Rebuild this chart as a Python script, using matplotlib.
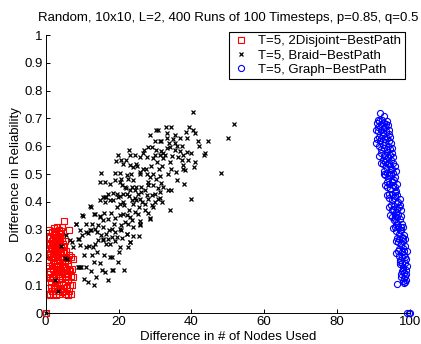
import numpy as np
import matplotlib
matplotlib.use('Agg')
import matplotlib.pyplot as plt

plt.rcParams['font.family'] = ['Liberation Sans', 'DejaVu Sans']

# 2Disjoint - BestPath (red squares)
disj_x = [0.0, 1.2, 2.0, 2.8, 3.7, 4.5, 5.6, 6.3, 1.6, 3.3, 7.0,
          1.0, 2.2, 3.0, 4.0, 4.8, 5.9, 6.6, 1.5, 2.6, 3.6, 5.3, 7.3,
          1.1, 1.9, 2.9, 3.9, 4.6, 5.5, 6.2, 7.0, 2.4, 3.4, 7.5,
          1.3, 2.1, 3.1, 4.2, 5.0, 5.8, 6.5, 1.7, 2.7, 3.8, 4.6, 7.2,
          1.0, 2.0, 3.0, 4.0, 5.2, 6.0, 6.9, 1.5, 2.5, 3.5, 4.5, 7.4,
          1.2, 2.2, 3.2, 4.1, 5.0, 5.7, 1.8, 2.8, 3.7,
          1.1, 2.0, 3.0, 3.9, 4.7, 1.6, 2.5, 3.4,
          1.3, 2.2, 3.1, 4.0, 2.6, 3.6, 4.4, 3.2, 5.0, 6.3,
          0.8, 1.4, 2.4, 3.2, 4.3, 5.1, 6.0, 0.9, 1.7, 2.7, 3.6, 4.4, 5.2,
          6.0, 6.8, 0.8, 2.3, 3.3, 4.0, 5.4, 6.2, 0.9, 1.9, 2.9, 4.7, 5.5,
          6.3, 1.4, 2.3, 3.3, 4.3, 5.1, 0.9, 1.9, 2.8, 3.7, 4.5, 1.6, 2.2,
          2.9, 4.2, 5.3, 1.0]
disj_y = [0.0, 0.065, 0.07, 0.065, 0.07, 0.075, 0.07, 0.08, 0.08, 0.08, 0.07,
          0.09, 0.095, 0.1, 0.09, 0.1, 0.095, 0.1, 0.11, 0.11, 0.105, 0.11, 0.1,
          0.125, 0.13, 0.12, 0.135, 0.125, 0.13, 0.12, 0.135, 0.14, 0.14, 0.13,
          0.15, 0.16, 0.155, 0.15, 0.165, 0.155, 0.16, 0.17, 0.17, 0.17, 0.175, 0.16,
          0.185, 0.19, 0.18, 0.195, 0.185, 0.19, 0.2, 0.2, 0.2, 0.205, 0.2, 0.195,
          0.215, 0.22, 0.21, 0.225, 0.215, 0.225, 0.23, 0.235, 0.23,
          0.245, 0.25, 0.245, 0.255, 0.25, 0.26, 0.26, 0.265,
          0.275, 0.28, 0.275, 0.285, 0.295, 0.3, 0.31, 0.31, 0.33, 0.3,
          0.07, 0.095, 0.085, 0.09, 0.085, 0.08, 0.065, 0.14, 0.125, 0.135, 0.125, 0.14, 0.145,
          0.14, 0.15, 0.17, 0.175, 0.165, 0.16, 0.17, 0.175, 0.21, 0.205, 0.22, 0.22, 0.2,
          0.21, 0.235, 0.24, 0.24, 0.24, 0.24, 0.27, 0.27, 0.26, 0.275, 0.27, 0.29, 0.305,
          0.29, 0.295, 0.26, 0.3]

# Braid - BestPath (black crosses)
braid_x = [0.0, 2.5, 4.2, 3.5, 5.5, 5.3, 8.8, 9.2, 9.5,
           30.4, 30.9, 33.0, 34.4, 33.4, 28.6, 31.3, 31.8, 33.2, 35.0, 35.5,
           36.8, 38.7, 39.3, 40.5, 40.9, 41.9, 43.7, 43.4, 40.0, 40.9, 40.7,
           37.7, 38.0, 40.0, 48.1, 50.1, 51.6, 40.5, 28.1, 29.1, 30.4, 31.8,
           32.3, 33.2, 34.1, 35.5, 36.8, 37.7, 38.7, 36.4, 37.3, 37.7, 38.2,
           35.9, 34.5, 34.1, 32.3, 31.3, 29.5, 27.7, 26.8, 25.9, 24.5, 23.1,
           22.8, 19.9, 19.3, 20.8, 21.3, 23.1, 24.0, 24.9, 26.8, 25.9, 27.7,
           28.6, 29.5, 30.4, 31.3, 31.8, 33.6, 34.5, 32.3, 31.3, 30.9, 30.0,
           29.5, 28.1, 27.2, 26.3, 24.9, 24.0, 22.7, 22.2, 20.8, 20.4, 19.0,
           17.6, 16.3, 14.9, 15.3, 19.0, 20.4, 18.5, 19.9, 21.3, 22.2, 23.6,
           23.1, 24.5, 25.4, 25.9, 24.9, 24.0, 27.2, 29.1, 21.3, 20.4, 18.5,
           17.6, 16.7, 15.8, 14.9, 16.3, 12.4, 13.5, 14.9, 15.8, 19.0, 20.4,
           21.3, 22.2, 23.1, 23.6, 22.7, 21.7, 20.8, 25.9, 28.6, 34.1, 27.2,
           25.4, 24.5, 14.4, 12.6, 10.3, 8.2, 13.5, 12.1, 11.2, 14.0, 15.3,
           16.7, 17.2, 18.1, 19.5, 20.8, 22.2, 24.0, 25.6, 23.1, 22.7, 20.4,
           17.6, 15.8, 13.5, 13.1, 11.2, 9.4, 9.1, 7.6, 6.7, 20.4, 18.1, 15.8,
           10.1, 12.2, 13.3, 14.9, 8.3, 11.7, 12.4, 8.9, 7.1, 10.6, 9.7, 11.2,
           12.6, 13.3, 10.6, 11.5, 13.3, 5.8, 14.4, 15.8, 16.7, 15.4, 16.3,
           18.1, 18.6, 21.5, 16.1, 17.6, 19.9, 19.0, 22.2, 23.1, 25.9, 28.6,
           21.8, 23.6, 26.3, 28.1, 29.1, 30.9, 31.4, 17.2, 16.3, 19.5,
           26.0, 27.5, 29.0, 30.5, 32.0, 33.5, 28.0, 29.5, 31.0, 32.8, 34.8,
           36.0, 37.5, 33.8, 30.0, 27.0, 25.0, 23.5, 22.0, 21.0, 23.0, 24.5,
           26.5, 27.8, 25.5, 23.0, 21.5, 19.5, 18.0, 17.0, 16.0, 18.8, 17.5,
           19.0, 21.0, 20.0, 18.2, 14.0, 12.0, 10.0, 11.0, 9.5, 15.0, 13.8,
           17.0, 12.5, 24.0, 26.0, 28.0, 30.0, 32.0, 36.0, 39.0, 42.0, 38.5,
           44.5, 30.0, 35.5, 20.5, 22.0]
braid_y = [0.0, 0.12, 0.24, 0.08, 0.28, 0.198, 0.164, 0.164, 0.164,
           0.660, 0.660, 0.670, 0.670, 0.648, 0.640, 0.620, 0.620, 0.631, 0.625, 0.613,
           0.631, 0.628, 0.670, 0.658, 0.646, 0.620, 0.574, 0.568, 0.577, 0.544, 0.526,
           0.520, 0.464, 0.412, 0.505, 0.630, 0.680, 0.722, 0.598, 0.598, 0.588, 0.582,
           0.574, 0.592, 0.598, 0.586, 0.584, 0.570, 0.580, 0.562, 0.552, 0.532, 0.514,
           0.508, 0.520, 0.544, 0.556, 0.568, 0.556, 0.562, 0.574, 0.562, 0.568, 0.568,
           0.586, 0.568, 0.546, 0.550, 0.538, 0.532, 0.526, 0.538, 0.520, 0.508, 0.502,
           0.490, 0.502, 0.484, 0.492, 0.468, 0.442, 0.442, 0.454, 0.436, 0.412, 0.400,
           0.382, 0.412, 0.442, 0.454, 0.454, 0.478, 0.484, 0.496, 0.484, 0.472, 0.478,
           0.466, 0.472, 0.472, 0.504, 0.504, 0.504, 0.432, 0.418, 0.430, 0.430, 0.406,
           0.442, 0.442, 0.430, 0.412, 0.406, 0.394, 0.394, 0.388, 0.400, 0.394, 0.406,
           0.406, 0.418, 0.418, 0.406, 0.400, 0.380, 0.358, 0.344, 0.334, 0.342, 0.352,
           0.358, 0.352, 0.346, 0.334, 0.322, 0.328, 0.316, 0.316, 0.340, 0.370, 0.370,
           0.358, 0.364, 0.316, 0.322, 0.348, 0.320, 0.304, 0.298, 0.292, 0.292, 0.280,
           0.286, 0.268, 0.274, 0.274, 0.298, 0.286, 0.278, 0.278, 0.256, 0.238, 0.238,
           0.250, 0.262, 0.250, 0.238, 0.238, 0.244, 0.268, 0.238, 0.262, 0.304, 0.304, 0.310,
           0.352, 0.384, 0.358, 0.348, 0.322, 0.289, 0.298, 0.265, 0.256, 0.208, 0.164, 0.164,
           0.208, 0.184, 0.124, 0.112, 0.100, 0.194, 0.262, 0.265, 0.250, 0.154, 0.148,
           0.154, 0.154, 0.154, 0.208, 0.202, 0.184, 0.292, 0.286, 0.256, 0.322, 0.341,
           0.454, 0.454, 0.436, 0.460, 0.424, 0.449, 0.413, 0.430, 0.418, 0.430,
           0.50, 0.52, 0.53, 0.545, 0.53, 0.50, 0.47, 0.46, 0.52, 0.57, 0.565,
           0.60, 0.60, 0.61, 0.57, 0.585, 0.53, 0.50, 0.45, 0.46, 0.42, 0.415,
           0.40, 0.425, 0.38, 0.37, 0.39, 0.38, 0.36, 0.34, 0.36, 0.32, 0.30,
           0.26, 0.27, 0.22, 0.20, 0.22, 0.24, 0.28, 0.32, 0.30, 0.18, 0.13,
           0.12, 0.15, 0.31, 0.33, 0.36, 0.43, 0.40, 0.48, 0.55, 0.60, 0.65,
           0.62, 0.62, 0.64, 0.42, 0.55]

# Graph - BestPath (blue circles)
graph_x = [91.8, 92.8,
           90.9, 91.5, 92.2, 92.9, 93.5, 94.0, 91.2, 93.2,
           91.3, 92.0, 92.7, 93.4, 94.2, 91.6, 92.5, 93.8, 94.6,
           90.6, 91.8, 92.6, 93.3, 94.1, 94.9, 92.2, 93.6, 95.2,
           92.0, 92.9, 93.7, 94.5, 95.4, 92.5, 93.4, 94.8,
           92.6, 93.5, 94.3, 95.1, 95.9, 93.0, 94.7,
           93.2, 94.0, 94.8, 95.6, 93.6, 95.2, 96.0,
           93.8, 94.6, 95.4, 96.2, 94.2, 95.8,
           94.4, 95.2, 96.0, 96.8, 94.9, 96.4, 97.2,
           94.5, 95.4, 96.2, 97.0, 95.8, 96.8, 97.5,
           95.6, 96.4, 97.2, 97.9, 96.0, 97.6,
           96.1, 96.9, 97.7, 98.5, 96.5, 98.1,
           96.1, 96.8, 97.5, 98.2, 98.8, 97.1, 98.5,
           97.0, 97.8, 98.4, 99.0, 97.4,
           97.4, 98.0, 98.6, 99.0, 97.8, 98.4,
           97.7, 98.3, 98.8, 98.0, 98.6,
           96.6, 98.4, 99.2, 99.7, 100.0,
           91.2, 93.6, 92.4, 90.8, 93.0, 94.3, 91.0, 92.1, 93.1, 94.4,
           91.4, 93.0, 94.5, 91.6, 93.3, 94.1, 95.0, 92.2, 93.1, 93.9,
           94.6, 95.5, 92.8, 93.6, 94.4, 95.3, 96.2, 93.2, 94.2, 95.0,
           95.8, 96.5, 93.6, 95.0, 95.6, 96.6, 94.2, 95.0, 95.7, 96.5,
           97.3, 95.2, 96.0, 96.6, 97.6, 95.5, 96.8, 97.2, 98.2, 96.3,
           96.3, 97.1, 97.8, 98.6, 96.7, 97.8, 98.2, 99.1, 97.2, 97.9,
           98.7, 99.1, 97.6, 98.2, 99.0, 98.9]
graph_y = [0.72, 0.71,
           0.685, 0.69, 0.68, 0.685, 0.68, 0.675, 0.67, 0.67,
           0.655, 0.66, 0.65, 0.655, 0.645, 0.635, 0.64, 0.63, 0.635,
           0.61, 0.62, 0.605, 0.615, 0.6, 0.61, 0.59, 0.59, 0.595,
           0.575, 0.565, 0.58, 0.57, 0.56, 0.55, 0.555, 0.55,
           0.535, 0.525, 0.54, 0.52, 0.53, 0.51, 0.515,
           0.495, 0.485, 0.5, 0.48, 0.47, 0.47, 0.49,
           0.455, 0.445, 0.46, 0.44, 0.43, 0.435,
           0.415, 0.405, 0.42, 0.4, 0.39, 0.395, 0.41,
           0.352, 0.375, 0.365, 0.38, 0.35, 0.355, 0.37,
           0.335, 0.325, 0.34, 0.32, 0.31, 0.31,
           0.295, 0.285, 0.3, 0.28, 0.27, 0.27,
           0.215, 0.255, 0.245, 0.26, 0.24, 0.23, 0.225,
           0.205, 0.2, 0.21, 0.195, 0.19,
           0.175, 0.165, 0.18, 0.155, 0.15, 0.145,
           0.13, 0.125, 0.135, 0.115, 0.11,
           0.103, 0.109, 0.0, 0.0, 0.0,
           0.695, 0.69, 0.695, 0.66, 0.665, 0.66, 0.625, 0.63, 0.625, 0.62,
           0.6, 0.595, 0.59, 0.565, 0.57, 0.56, 0.575, 0.54, 0.545, 0.535,
           0.53, 0.54, 0.5, 0.505, 0.495, 0.505, 0.51, 0.46, 0.465, 0.475,
           0.455, 0.465, 0.425, 0.43, 0.415, 0.425, 0.38, 0.37, 0.385, 0.375,
           0.39, 0.345, 0.34, 0.345, 0.35, 0.305, 0.31, 0.3, 0.31, 0.315,
           0.26, 0.265, 0.275, 0.265, 0.225, 0.22, 0.235, 0.225, 0.185, 0.18,
           0.2, 0.17, 0.14, 0.155, 0.14, 0.12]

fig = plt.figure(figsize=(4.21, 3.44), dpi=100)
ax = fig.add_axes([0.1085, 0.090, 0.865, 0.808])

ax.plot(disj_x, disj_y, 's', mfc='none', mec='red', ms=4.2, mew=0.8,
        clip_on=False, label='T=5, 2Disjoint\u2212BestPath')
ax.plot(braid_x, braid_y, 'x', color='black', ms=3.3, mew=0.9,
        clip_on=False, label='T=5, Braid\u2212BestPath')
ax.plot(graph_x, graph_y, 'o', mfc='none', mec='blue', ms=4.4, mew=0.8,
        clip_on=False, label='T=5, Graph\u2212BestPath')

ax.set_xlim(0, 100)
ax.set_ylim(0, 1)
ax.set_xticks([0, 20, 40, 60, 80, 100])
ax.set_yticks(np.arange(0, 1.01, 0.1))
ax.set_yticklabels(['0', '0.1', '0.2', '0.3', '0.4', '0.5', '0.6', '0.7', '0.8', '0.9', '1'])
ax.spines['top'].set_visible(False)
ax.spines['right'].set_visible(False)
for s in ['left', 'bottom']:
    ax.spines[s].set_linewidth(0.7)
ax.tick_params(direction='in', length=3, width=0.7, labelsize=9.5, pad=2)

ax.set_title('Random, 10x10, L=2, 400 Runs of 100 Timesteps, p=0.85, q=0.5',
             fontsize=9.5, pad=10)
ax.set_xlabel('Difference in # of Nodes Used', fontsize=9.5, labelpad=2)
ax.set_ylabel('Difference in Reliability', fontsize=9.5, labelpad=2)

leg = ax.legend(loc='upper right', bbox_to_anchor=(0.986, 1.012), borderaxespad=0,
                numpoints=1, fontsize=9.5, fancybox=False, framealpha=1,
                edgecolor='black', handlelength=1.3, handletextpad=0.7,
                borderpad=0.25, labelspacing=0.15)
leg.get_frame().set_linewidth(0.8)

fig.savefig('out.png', dpi=100)
